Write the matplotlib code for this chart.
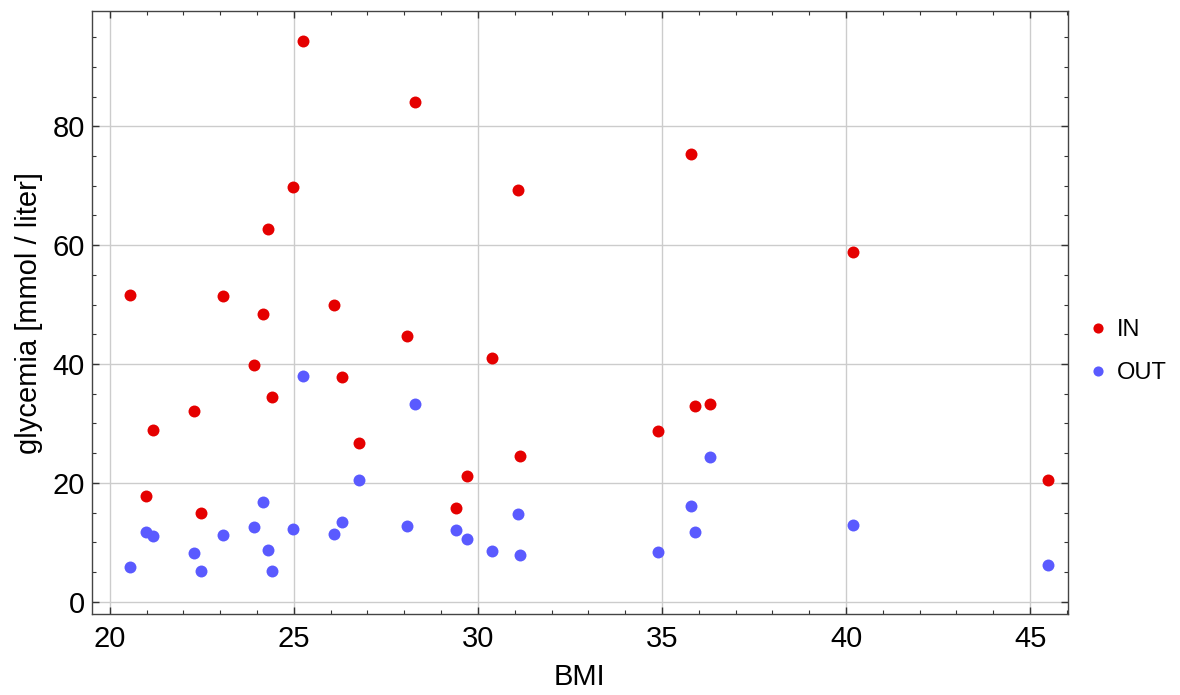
import matplotlib
matplotlib.use("Agg")
import matplotlib.pyplot as plt
from matplotlib.ticker import MultipleLocator

# ---- data ----
bmi = [20.56, 20.99, 21.18, 22.29, 22.48, 23.09, 23.91, 24.17, 24.29, 24.40,
       24.99, 25.24, 26.09, 26.30, 26.77, 28.08, 28.28, 29.40, 29.70, 30.39,
       31.10, 31.14, 34.89, 35.80, 35.89, 36.30, 40.19, 45.49]
glyc_in = [51.6, 17.8, 28.9, 32.1, 15.0, 51.4, 39.8, 48.4, 62.8, 34.4,
           69.7, 94.4, 50.0, 37.8, 26.7, 44.7, 84.1, 15.8, 21.1, 41.0,
           69.3, 24.5, 28.7, 75.4, 33.0, 33.3, 58.9, 20.4]
glyc_out = [5.9, 11.7, 11.1, 8.2, 5.2, 11.3, 12.5, 16.8, 8.7, 5.2,
            12.2, 38.0, 11.4, 13.4, 20.4, 12.8, 33.2, 12.0, 10.5, 8.5,
            14.7, 7.9, 8.4, 16.1, 11.8, 24.3, 12.9, 6.2]
series_labels = ["IN", "OUT"]
x_label = "BMI"
y_label = "glycemia [mmol / liter]"
x_ticks = [20, 25, 30, 35, 40, 45]
y_ticks = [0, 20, 40, 60, 80]

plt.rcParams['font.family'] = ['Liberation Sans', 'DejaVu Sans']

fig = plt.figure(figsize=(11.8, 6.95), dpi=100)
ax = fig.add_axes([0.0777, 0.1165, 0.9048 - 0.0777, 0.9842 - 0.1165])

red = '#E50000'
blue = '#5A5AFF'
ax.plot(bmi, glyc_in, 'o', color=red, ms=8.6, mew=0, label=series_labels[0], zorder=3)
ax.plot(bmi, glyc_out, 'o', color=blue, ms=8.6, mew=0, label=series_labels[1], zorder=3)

ax.set_xlim(19.51, 46.02)
ax.set_ylim(-2.07, 99.4)
ax.set_xticks(x_ticks)
ax.set_yticks(y_ticks)
ax.xaxis.set_minor_locator(MultipleLocator(1))
ax.yaxis.set_minor_locator(MultipleLocator(5))

ax.grid(True, which='major', color='#cccccc', lw=1.0, zorder=0)
ax.set_axisbelow(True)

for s in ax.spines.values():
    s.set_color('#444444')
    s.set_linewidth(1.0)

ax.tick_params(which='both', direction='in', top=True, right=True, colors='#333333',
               labelcolor='black', labelsize=21)
ax.tick_params(which='major', length=5, width=1.0)
ax.tick_params(which='minor', length=3, width=0.8)
ax.tick_params(axis='x', which='major', pad=8)
ax.tick_params(axis='y', which='major', pad=5)

ax.set_xlabel(x_label, fontsize=21, labelpad=7)
ax.set_ylabel(y_label, fontsize=21, labelpad=7)

leg = ax.legend(loc='center left', bbox_to_anchor=(0.997, 0.435), frameon=False,
                fontsize=17, markerscale=0.85, handletextpad=0.3, labelspacing=0.9,
                handlelength=1.0)

fig.savefig('out.png', dpi=100)
